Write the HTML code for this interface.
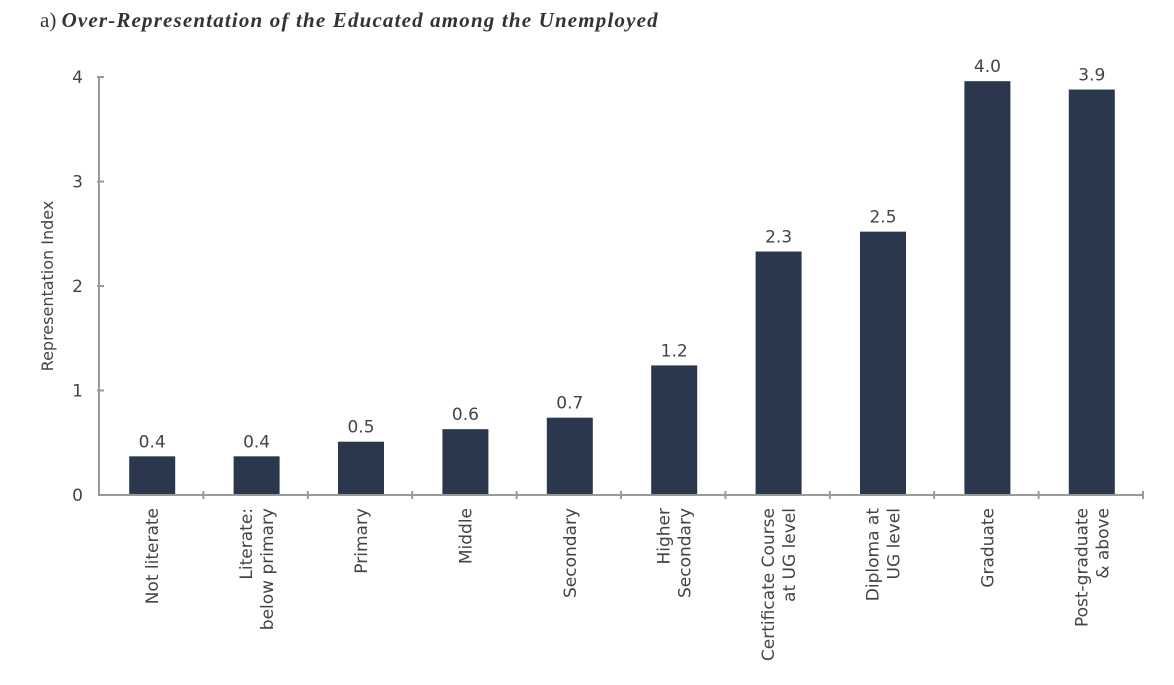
<!DOCTYPE html>
<html><head><meta charset="utf-8"><style>
body{margin:0;background:#fff;}
svg text{font-family:"DejaVu Sans","Liberation Sans",sans-serif;fill:#444;}
</style></head><body>
<svg id="chart" width="1174" height="680" viewBox="0 0 1174 680" xmlns="http://www.w3.org/2000/svg">
<text x="40" y="27" style="font-family:'Liberation Serif',serif;font-size:21px;fill:#333"><tspan>a) </tspan><tspan font-weight="bold" font-style="italic" textLength="596" lengthAdjust="spacing">Over-Representation of the Educated among the Unemployed</tspan></text>
<text transform="translate(53,286) rotate(-90)" text-anchor="middle" style="font-size:16px">Representation Index</text>
<g id="plot"></g>
</svg>
<script>
const categories = [["Not literate"],["Literate:","below primary"],["Primary"],["Middle"],["Secondary"],["Higher","Secondary"],["Certificate Course","at UG level"],["Diploma at","UG level"],["Graduate"],["Post-graduate","& above"]];
const values = [0.37,0.37,0.51,0.63,0.74,1.24,2.33,2.52,3.96,3.88];
const valueLabels = ["0.4","0.4","0.5","0.6","0.7","1.2","2.3","2.5","4.0","3.9"];
const yTicks = [0,1,2,3,4];

const NS="http://www.w3.org/2000/svg";
const g=document.getElementById('plot');
const x0=99,x1=1143,y0=495,yTop=77,yMax=4;
const bw=(x1-x0)/categories.length;
const y=v=>y0-(v/yMax)*(y0-yTop);
const xc=i=>x0+bw*(i+0.5);
function mk(t,a){const e=document.createElementNS(NS,t);for(const k in a)e.setAttribute(k,a[k]);g.appendChild(e);return e;}

values.forEach((v,i)=>{
  const r=mk('rect',{x:xc(i)-22,y:y(v),width:46,height:y0-y(v),fill:'#2a374d'});
  
  
  const t=mk('text',{x:xc(i)+1,y:y(v)-9,'text-anchor':'middle','font-size':'17'});
  t.textContent=valueLabels[i];
  
  
  const lines=categories[i];
  const n=lines.length;
  lines.forEach((ln,j)=>{
    const xx=xc(i)+7+(j-(n-1)/2)*21;
    const tt=mk('text',{transform:`translate(${xx},508) rotate(-90)`,'text-anchor':'end','font-size':'17'});
    tt.textContent=ln;
    
    
  });
});
yTicks.forEach(v=>{
  const t=mk('text',{x:83,y:y(v)+6,'text-anchor':'end','font-size':'17'});
  t.textContent=v;
  
  
  if(v>0){const l=mk('line',{x1:x0-2,x2:x0+5,y1:y(v),y2:y(v),stroke:'#999','stroke-width':2});
  
  }
});
for(let i=1;i<=categories.length;i++){
  const l=mk('line',{x1:x0+bw*i,x2:x0+bw*i,y1:y0-4,y2:y0+4,stroke:'#999','stroke-width':2});
  
  
}
const ya=mk('line',{x1:x0,x2:x0,y1:yTop,y2:y0,stroke:'#999','stroke-width':2});


const xa=mk('line',{x1:x0-1,x2:x1,y1:y0,y2:y0,stroke:'#999','stroke-width':2});


</script>
</body></html>
